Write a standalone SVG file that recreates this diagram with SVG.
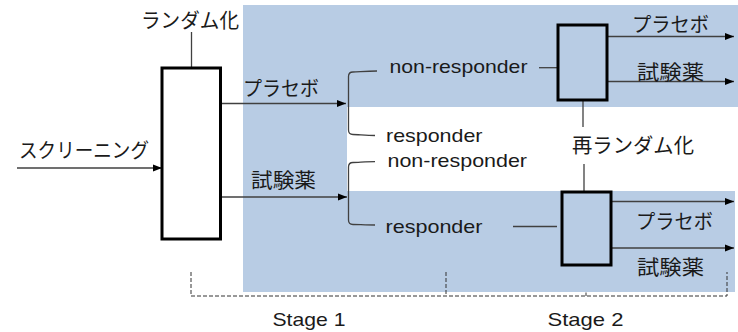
<svg xmlns="http://www.w3.org/2000/svg" width="738" height="332" viewBox="0 0 738 332">
<style>
.bg{fill:#b8cce4;stroke:none}
.box{fill:none;stroke:#000;stroke-width:3}
.ln{fill:none;stroke:#404040;stroke-width:1.3}
.arr{fill:none;stroke:#404040;stroke-width:1.3;marker-end:url(#ah)}
.dash{fill:none;stroke:#333;stroke-width:1;stroke-dasharray:4 2}
.jp{font-family:"Noto Sans CJK JP","Noto Sans",sans-serif;font-size:20.5px;fill:#1a1a1a}
.en{font-family:"Liberation Sans",Arial,sans-serif;font-size:18.5px;fill:#1a1a1a}
</style>
<defs>
<marker id="ah" markerWidth="10" markerHeight="8" refX="9" refY="4" orient="auto" markerUnits="userSpaceOnUse">
<path d="M0,0.5 L9,4 L0,7.5 Z" fill="#000"/>
</marker>
</defs>
<path class="bg" d="M243,5 H738 V107 H347 V191 H735 V292 H243 Z"/>
<g id="connectors">
<path class="arr" d="M17,168 H162"/>
<path class="arr" d="M221,103.5 H346"/>
<path class="arr" d="M221,197 H347"/>
<path class="arr" d="M607,36.5 H734"/>
<path class="arr" d="M607,81.5 H734"/>
<path class="arr" d="M611,201.5 H734"/>
<path class="arr" d="M611,248 H734"/>
<path class="ln" d="M191.5,32 V68"/>
<path class="ln" d="M539,67.7 H558"/>
<path class="ln" d="M583,100 V127"/>
<path class="ln" d="M584,164 V192"/>
<path class="ln" d="M513,226.5 H557"/>
<path class="ln" d="M377,71 C366,71 358,72 353,72 Q348.5,72 348.5,76.5 V130 Q348.5,134.5 353,134.5 C358,134.5 366,135.5 375,135.5"/>
<path class="ln" d="M375,161.7 C366,161.7 358,162.5 353,162.5 Q348.5,162.5 348.5,167 V220 Q348.5,224.5 353,224.5 C358,224.5 366,225 375,225"/>
</g>
<g id="stage-bracket">
<path class="dash" d="M191,272 V296 H727 V272"/>
<path class="dash" d="M446,272 V296"/>
<path class="dash" d="M586,292.5 V296"/>
</g>
<g id="randomize">
<rect class="box" x="162" y="68" width="58.5" height="171" style="fill:#fff"/>
<text class="jp" x="141" y="28" textLength="98" lengthAdjust="spacingAndGlyphs">ランダム化</text>
</g>
<g id="screening">
<text class="jp" x="19" y="158" textLength="130" lengthAdjust="spacingAndGlyphs">スクリーニング</text>
</g>
<g id="placebo1">
<text class="jp" x="243" y="96" textLength="76" lengthAdjust="spacingAndGlyphs">プラセボ</text>
</g>
<g id="drug1">
<text class="jp" x="251" y="188" textLength="65" lengthAdjust="spacingAndGlyphs">試験薬</text>
</g>
<g id="nonresp1">
<text class="en" x="389.5" y="73.3" textLength="138" lengthAdjust="spacingAndGlyphs">non-responder</text>
</g>
<g id="resp1">
<text class="en" x="386" y="142.3" textLength="96.5" lengthAdjust="spacingAndGlyphs">responder</text>
</g>
<g id="nonresp2">
<text class="en" x="387.5" y="166.7" textLength="139.5" lengthAdjust="spacingAndGlyphs">non-responder</text>
</g>
<g id="resp2">
<text class="en" x="385.5" y="233.3" textLength="97" lengthAdjust="spacingAndGlyphs">responder</text>
</g>
<g id="rerandomize-top">
<rect class="box" x="558" y="25" width="49" height="75"/>
</g>
<g id="rerandomize-bottom">
<rect class="box" x="562" y="192" width="49" height="73"/>
</g>
<g id="rerandomize-label">
<text class="jp" x="572" y="153" textLength="122" lengthAdjust="spacingAndGlyphs">再ランダム化</text>
</g>
<g id="placebo2">
<text class="jp" x="632" y="32" textLength="77" lengthAdjust="spacingAndGlyphs">プラセボ</text>
</g>
<g id="drug2">
<text class="jp" x="637" y="80" textLength="67" lengthAdjust="spacingAndGlyphs">試験薬</text>
</g>
<g id="placebo3">
<text class="jp" x="636" y="229" textLength="77" lengthAdjust="spacingAndGlyphs">プラセボ</text>
</g>
<g id="drug3">
<text class="jp" x="637" y="275" textLength="67" lengthAdjust="spacingAndGlyphs">試験薬</text>
</g>
<g id="stage1">
<text class="en" x="272.5" y="326" textLength="73" lengthAdjust="spacingAndGlyphs">Stage 1</text>
</g>
<g id="stage2">
<text class="en" x="547.5" y="326" textLength="76" lengthAdjust="spacingAndGlyphs">Stage 2</text>
</g>
</svg>
